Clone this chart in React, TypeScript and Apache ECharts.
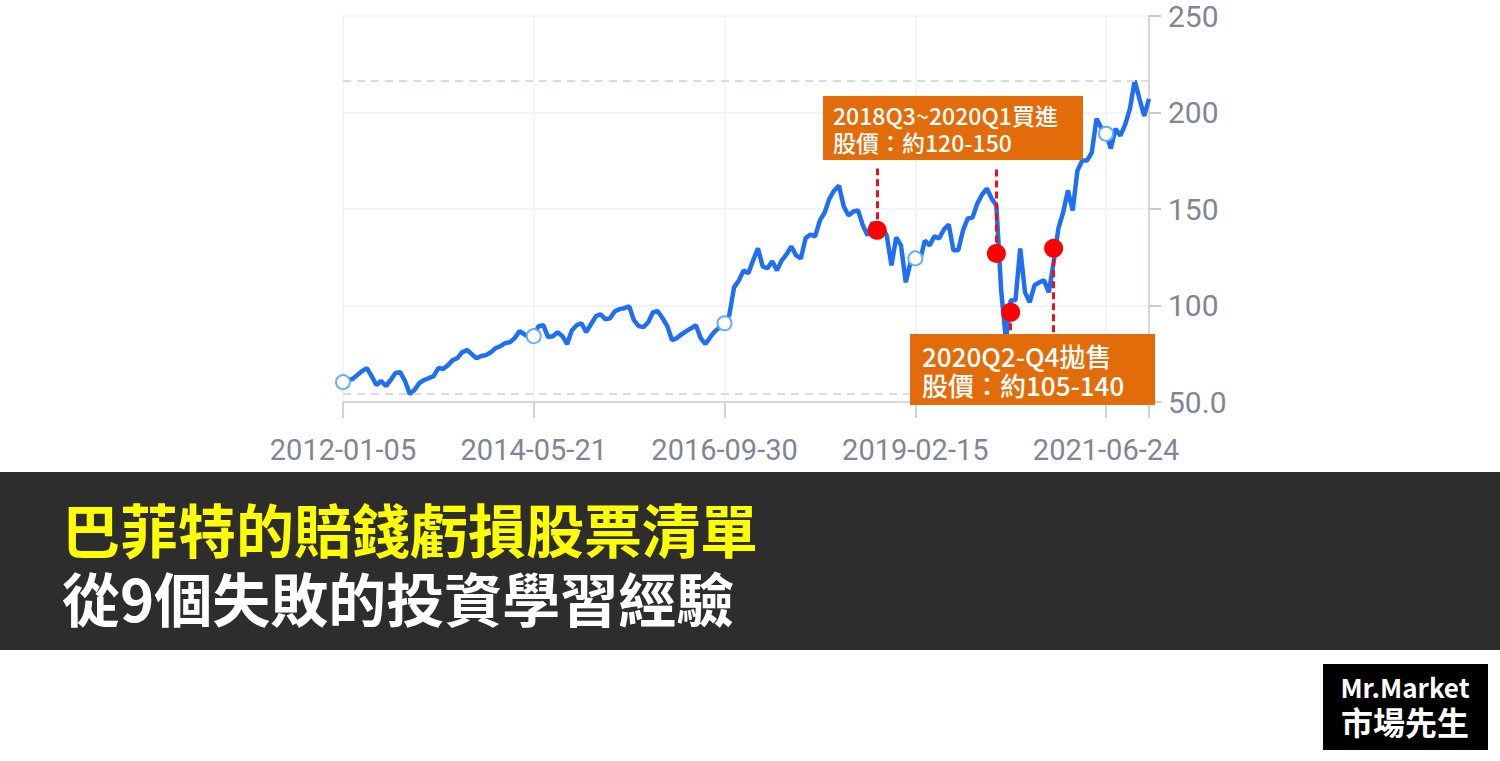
import React, { useEffect, useRef } from 'react';
import * as echarts from 'echarts';

// Tick labels of the category axis (one every 40 samples)
const tickDates = ['2012-01-05', '2014-05-21', '2016-09-30', '2019-02-15', '2021-06-24'];
const pointsPerTick = 40;

const prices = [
  60.3, 61.4, 61.9, 64.0, 66.0, 67.6, 63.4, 58.8, 60.9, 58.3,
  61.4, 65.0, 65.5, 60.9, 54.2, 56.2, 59.8, 61.4, 62.4, 63.4,
  67.6, 67.1, 69.1, 71.7, 72.7, 75.8, 76.9, 74.8, 72.7, 73.8,
  74.3, 75.8, 77.9, 78.9, 80.5, 81.0, 83.1, 86.7, 85.1, 83.6,
  84.1, 89.3, 89.8, 83.6, 84.1, 86.2, 84.1, 80.0, 87.2, 89.8,
  90.8, 86.2, 90.3, 94.4, 95.5, 92.9, 93.4, 97.0, 98.1, 98.6,
  99.6, 92.4, 89.3, 88.8, 91.3, 96.5, 97.0, 93.4, 89.3, 82.0,
  83.1, 85.1, 86.7, 88.2, 89.8, 83.1, 80.0, 83.6, 86.7, 88.8,
  90.8, 95.0, 109.4, 113.0, 118.2, 116.7, 123.4, 129.6, 120.3, 119.3,
  122.9, 118.2, 123.4, 126.5, 130.6, 126.0, 124.4, 134.8, 136.8, 135.8,
  144.1, 148.2, 155.4, 159.6, 162.1, 151.3, 146.6, 148.7, 149.2, 141.5,
  136.3, 143.0, 139.4, 141.0, 136.3, 120.8, 135.3, 131.1, 112.0, 122.4,
  124.4, 123.4, 133.7, 131.1, 135.8, 134.8, 139.4, 142.0, 128.6, 128.6,
  138.9, 145.1, 145.6, 152.8, 157.5, 160.6, 155.4, 151.8, 107.9, 82.0,
  102.7, 102.7, 129.6, 106.8, 101.7, 110.5, 112.0, 113.0, 106.8, 122.4,
  139.9, 148.2, 159.6, 149.2, 169.9, 175.1, 175.1, 179.2, 196.8, 192.1,
  189.0, 181.3, 191.6, 188.0, 193.7, 201.9, 216.5, 207.1, 198.3, 207.1,
];

// Buy / sell points marked in red
const dotIndex = [112, 137, 140, 149];
const dotPrice = [139.0, 127.0, 96.5, 129.6];
const dotLineEnd = [171.0, 171.0, 80.0, 80.0];

const buyLines = ['2018Q3~2020Q1買進', '股價：約120-150'];
const sellLines = ['2020Q2-Q4拋售', '股價：約105-140'];
const titleLine1 = '巴菲特的賠錢虧損股票清單';
const titleLine2 = '從9個失敗的投資學習經驗';
const logoLines = ['Mr.Market', '市場先生'];

function buildDates(): string[] {
  const t = tickDates.map((d) => Date.parse(d + 'T00:00:00Z'));
  const out: string[] = [];
  for (let i = 0; i < prices.length; i++) {
    const seg = Math.min(Math.floor(i / pointsPerTick), t.length - 2);
    const f = (i - seg * pointsPerTick) / pointsPerTick;
    const ms = t[seg] + f * (t[seg + 1] - t[seg]);
    out.push(new Date(ms).toISOString().slice(0, 10));
  }
  return out;
}

const AXIS_FONT = '"Liberation Sans Narrow", "Roboto", sans-serif';
const CJK_FONT = '"Noto Sans CJK TC", "Noto Sans", sans-serif';

function boxText(text: string, x: number, y: number, size: number, lh: number) {
  return {
    type: 'text', z: 101, x, y,
    style: { text, fill: '#ffffff', fontSize: size, fontWeight: 500, lineHeight: lh, fontFamily: CJK_FONT, verticalAlign: 'middle' },
  };
}

export default function App() {
  const ref = useRef<HTMLDivElement>(null);

  useEffect(() => {
    if (!ref.current) return;
    const chart = echarts.init(ref.current, undefined, { renderer: 'svg' });
    const dates = buildDates();
    const last = dates.length - 1;

    const option: any = {
      animation: false,
      backgroundColor: '#ffffff',
      grid: { left: 343, top: 16, width: 806, height: 386 },
      xAxis: {
        type: 'category',
        data: dates,
        boundaryGap: false,
        axisLine: { lineStyle: { color: '#d3d7de', width: 2 } },
        axisTick: {
          show: true,
          length: 16,
          interval: (i: number) => i % pointsPerTick === 0 || i === last,
          lineStyle: { color: '#cfd3da', width: 2 },
        },
        axisLabel: {
          interval: pointsPerTick - 1,
          color: '#7f8696',
          fontFamily: AXIS_FONT,
          fontSize: 29,
          margin: 33,
        },
        splitLine: {
          show: true,
          interval: pointsPerTick - 1,
          lineStyle: { color: '#f0f2f6', width: 1.5 },
        },
      },
      yAxis: {
        type: 'value',
        position: 'right',
        min: 50,
        max: 250,
        interval: 50,
        axisLine: { show: true, lineStyle: { color: '#d3d7de', width: 2 } },
        axisTick: { show: true, length: 12, lineStyle: { color: '#c6cbd3', width: 2 } },
        axisLabel: {
          color: '#7f8696',
          fontFamily: AXIS_FONT,
          fontSize: 30,
          margin: 19,
          formatter: (v: number) => (v === 50 ? '50.0' : String(v)),
        },
        splitLine: { show: true, lineStyle: { color: '#f0f2f6', width: 1.5 } },
      },
      series: [
        {
          type: 'line',
          data: prices,
          symbol: 'emptyCircle',
          symbolSize: 14,
          showSymbol: true,
          showAllSymbol: 'auto',
          lineStyle: { color: '#1f6ff2', width: 4.5 },
          itemStyle: { color: '#62adff', borderWidth: 3.5 },
          z: 3,
          markLine: {
            silent: true,
            symbol: 'none',
            label: { show: false },
            lineStyle: { color: '#d8dce3', type: [8, 6], width: 2 },
            data: [{ type: 'max' }, { type: 'min' }],
          },
        },
        {
          type: 'scatter',
          data: dotIndex.map((idx, k) => [dates[idx], dotPrice[k]]),
          symbolSize: 19,
          itemStyle: { color: '#ff0000', opacity: 1 },
          z: 5,
          markLine: {
            silent: true,
            symbol: 'none',
            label: { show: false },
            lineStyle: { color: '#e8101a', type: [7, 4], width: 3, opacity: 1 },
            data: dotIndex.map((idx, k) => [
              { coord: [dates[idx], dotPrice[k]] },
              { coord: [dates[idx], dotLineEnd[k]] },
            ]),
          },
        },
      ],
      graphic: [
        // annotation boxes
        { type: 'rect', z: 100, shape: { x: 823, y: 96, width: 260, height: 64 }, style: { fill: '#e36c0a' } },
        boxText(buyLines[0], 833, 115, 23, 26),
        boxText(buyLines[1], 833, 142, 23, 26),
        { type: 'rect', z: 100, shape: { x: 910, y: 334, width: 245, height: 71 }, style: { fill: '#e36c0a' } },
        boxText(sellLines[0], 922, 355, 26, 28),
        boxText(sellLines[1], 922, 384, 26, 28),
        // title band
        { type: 'rect', z: 100, shape: { x: 0, y: 472, width: 1500, height: 178 }, style: { fill: '#2d2d2d' } },
        { type: 'text', z: 101, x: 62, y: 528, style: { text: titleLine1, fill: '#ffff00', fontSize: 58, fontWeight: 'bold', lineHeight: 60, fontFamily: CJK_FONT, verticalAlign: 'middle' } },
        { type: 'text', z: 101, x: 62, y: 597, style: { text: titleLine2, fill: '#ffffff', fontSize: 58, fontWeight: 'bold', lineHeight: 60, fontFamily: CJK_FONT, verticalAlign: 'middle' } },
        // logo
        { type: 'rect', z: 100, shape: { x: 1323, y: 664, width: 165, height: 86 }, style: { fill: '#000000' } },
        { type: 'text', z: 101, x: 1405, y: 686, style: { text: logoLines[0], fill: '#ffffff', fontSize: 26, lineHeight: 28, fontWeight: 'bold', fontFamily: CJK_FONT, align: 'center', verticalAlign: 'middle' } },
        { type: 'text', z: 101, x: 1405, y: 721, style: { text: logoLines[1], fill: '#ffffff', fontSize: 32, lineHeight: 34, fontWeight: 'bold', fontFamily: CJK_FONT, align: 'center', verticalAlign: 'middle' } },
      ],
    };

    chart.setOption(option);
    return () => chart.dispose();
  }, []);

  return (
    <div
      ref={ref}
      style={{ position: 'fixed', left: 0, top: 0, width: 1500, height: 761, background: '#fff' }}
    />
  );
}
